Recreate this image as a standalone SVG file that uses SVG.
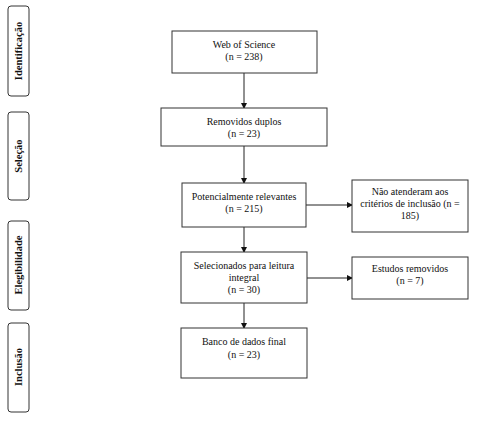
<svg xmlns="http://www.w3.org/2000/svg" width="486" height="422" viewBox="0 0 486 422">
<style>
.box{fill:#fff;stroke:#333;stroke-width:1}
.side{fill:#fff;stroke:#333;stroke-width:1}
text{font-family:"Liberation Serif","Times New Roman",serif;font-size:10px;fill:#111;text-anchor:middle}
.lab{font-weight:bold;font-size:10.5px}
.conn{stroke:#222;stroke-width:1;fill:none;marker-end:url(#ah)}
</style>
<defs>
<marker id="ah" markerWidth="6" markerHeight="6" refX="5" refY="3" orient="auto" markerUnits="userSpaceOnUse">
<path d="M0,0 L6,3 L0,6 z" fill="#111"/>
</marker>
</defs>
<rect width="486" height="422" fill="#fff"/>
<g id="phase-identificacao"><rect class="side" x="8" y="6" width="21" height="90" rx="3"/><text class="lab" transform="translate(22,51) rotate(-90)">Identificação</text></g>
<g id="phase-selecao"><rect class="side" x="8" y="112" width="21" height="88" rx="3"/><text class="lab" transform="translate(22,156) rotate(-90)">Seleção</text></g>
<g id="phase-elegibilidade"><rect class="side" x="8" y="221" width="21" height="89" rx="3"/><text class="lab" transform="translate(22,265) rotate(-90)">Elegibilidade</text></g>
<g id="phase-inclusao"><rect class="side" x="8" y="323" width="21" height="89" rx="3"/><text class="lab" transform="translate(22,367) rotate(-90)">Inclusão</text></g>

<g id="connectors">
<line class="conn" x1="244" y1="73" x2="244" y2="108"/>
<line class="conn" x1="244" y1="146" x2="244" y2="183"/>
<line class="conn" x1="244" y1="227" x2="244" y2="252"/>
<line class="conn" x1="244" y1="303" x2="244" y2="328"/>
<line class="conn" x1="306" y1="205" x2="352" y2="205"/>
<line class="conn" x1="307" y1="278" x2="352" y2="278"/>
</g>

<g id="n-wos"><rect class="box" x="172" y="31" width="145" height="42"/><text x="244" y="48">Web of Science</text><text x="244" y="60">(n = 238)</text></g>
<g id="n-duplos"><rect class="box" x="161" y="108" width="166" height="38"/><text x="244" y="125">Removidos duplos</text><text x="244" y="137">(n = 23)</text></g>
<g id="n-potencial"><rect class="box" x="182" y="183" width="124" height="44"/><text x="244" y="200">Potencialmente relevantes</text><text x="244" y="212">(n = 215)</text></g>
<g id="n-selecionados"><rect class="box" x="181" y="252" width="126" height="51"/><text x="244" y="269">Selecionados para leitura</text><text x="244" y="281">integral</text><text x="244" y="293">(n = 30)</text></g>
<g id="n-banco"><rect class="box" x="181" y="328" width="126" height="50"/><text x="244" y="345">Banco de dados final</text><text x="244" y="358">(n = 23)</text></g>
<g id="n-nao"><rect class="box" x="352" y="180" width="116" height="52"/><text x="410" y="195">Não atenderam aos</text><text x="410" y="207">critérios de inclusão (n =</text><text x="410" y="219">185)</text></g>
<g id="n-estudos"><rect class="box" x="352" y="257" width="116" height="42"/><text x="410" y="272">Estudos removidos</text><text x="410" y="284">(n = 7)</text></g>
</svg>
